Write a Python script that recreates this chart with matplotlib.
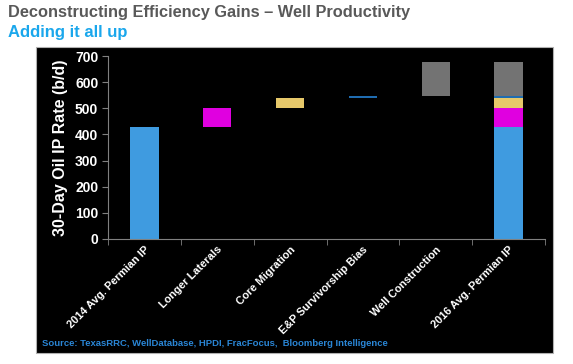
import matplotlib.pyplot as plt
from matplotlib.patches import Rectangle

plt.rcParams["font.family"] = ["Liberation Sans", "DejaVu Sans"]

categories = ["2014 Avg. Permian IP", "Longer Laterals", "Core Migration",
              "E&P Survivorship Bias", "Well Construction", "2016 Avg. Permian IP"]
base_ip = 430
step_names = ["Longer Laterals", "Core Migration", "E&P Survivorship Bias", "Well Construction"]
step_values = [70, 40, 8, 130]
step_colors = ["#e000e0", "#e6c86a", "#1f6cb0", "#737373"]
base_color = "#3f9be0"
yticks = [0, 100, 200, 300, 400, 500, 600, 700]

fig = plt.figure(figsize=(5.73, 3.64), dpi=100)
fig.patch.set_facecolor("white")

# black panel behind the chart
fig.patches.append(Rectangle((36 / 573, 1 - 353 / 364), (553 - 36) / 573, (353 - 47) / 364,
                             transform=fig.transFigure, facecolor="black",
                             edgecolor="#b0b0b0", linewidth=0.8, zorder=-10))

ax = fig.add_axes([108 / 573, 1 - 239 / 364, (545 - 108) / 573, (239 - 56) / 364])
ax.set_facecolor("black")

w = 0.39
x = list(range(len(categories)))

# waterfall
ax.bar(x[0], base_ip, width=w, color=base_color)
bottom = base_ip
for i, (v, c) in enumerate(zip(step_values, step_colors)):
    ax.bar(x[i + 1], v, bottom=bottom, width=w, color=c)
    bottom += v

# stacked total
ax.bar(x[-1], base_ip, width=w, color=base_color)
bottom = base_ip
for v, c in zip(step_values, step_colors):
    ax.bar(x[-1], v, bottom=bottom, width=w, color=c)
    bottom += v

ax.set_xlim(-0.5, len(categories) - 0.5)
ax.set_ylim(0, 700)
ax.set_yticks(yticks)
ax.set_yticklabels([str(t) for t in yticks], color="white", fontweight="bold", fontsize=10)
ax.set_xticks(x)
ax.set_xticklabels(categories, rotation=45, ha="right", rotation_mode="anchor",
                   color="white", fontweight="bold", fontsize=7.9)
ax.set_xticks([i + 0.5 for i in range(-1, len(categories))], minor=True)
ax.tick_params(axis="x", which="major", length=0, pad=4)
ax.tick_params(axis="x", which="minor", length=4, color="#808080")
ax.tick_params(axis="y", length=4, color="#808080", pad=3)
for s in ["top", "right"]:
    ax.spines[s].set_visible(False)
for s in ["left", "bottom"]:
    ax.spines[s].set_color("#808080")
ax.set_ylabel("30-Day Oil IP Rate (b/d)", color="white", fontweight="bold", fontsize=11.5, labelpad=5)

fig.text(8 / 573, 1 - 13 / 364, "Deconstructing Efficiency Gains \u2013 Well Productivity",
         color="#595959", fontweight="bold", fontsize=11.8, va="center")
fig.text(8 / 573, 1 - 33 / 364, "Adding it all up",
         color="#1aa7ec", fontweight="bold", fontsize=12, va="center")
fig.text(42 / 573, 1 - 343 / 364, "Source: TexasRRC, WellDatabase, HPDI, FracFocus,  Bloomberg Intelligence",
         color="#2a86d6", fontweight="bold", fontsize=6.8, va="center")

fig.savefig("out.png", dpi=100)
